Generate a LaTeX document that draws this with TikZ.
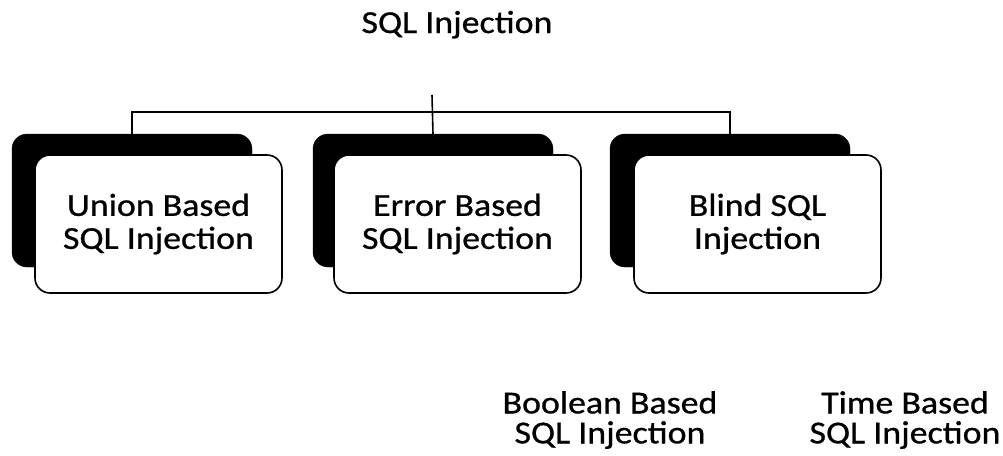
\documentclass[tikz,border=0pt]{standalone}
\usepackage{fontspec}
\setmainfont[FakeStretch=1.12,FakeBold=0.8]{Carlito}
\usepackage{tikz}

\begin{document}
\begin{tikzpicture}[x=1pt,y=-1pt]

\tikzset{
  back card/.style={
    draw=black, fill=black, rounded corners=15pt,
    minimum width=240pt, minimum height=133pt,
    inner sep=0pt, outer sep=0pt,
  },
  front card/.style={
    draw=black, line width=1.6pt, fill=white, rounded corners=15pt,
    minimum width=247pt, minimum height=138pt,
    inner sep=0pt, outer sep=0pt, align=center,
    font=\fontsize{32}{33}\selectfont,
  },
  leaf label/.style={
    inner sep=0pt, align=center,
    font=\fontsize{32}{30}\selectfont,
  },
  link/.style={line width=1.6pt}
}

  \useasboundingbox (0,0) rectangle (1003,455);

  % Top
  \node[inner sep=0pt, anchor=base, font=\fontsize{32}{33}\selectfont] (sqli) at (457,33) {SQL Injection};
  \coordinate (root) at (432,95);
  \coordinate (bar) at (432,112);

  % Shadows
  \node[back card] (unionback) at (132,200.5) {};
  \node[back card] (errorback) at (433,200.5) {};
  \node[back card] (blindback) at (730,200.5) {};

  % Cards
  \node[front card] (union) at (158.5,224) {Union Based\\SQL Injection};
  \node[front card] (error) at (457.5,224) {Error Based\\SQL Injection};
  \node[front card] (blind) at (757.5,224) {Blind SQL\\Injection};

  % Blind types
  \node[leaf label] (boolean) at (610,420) {Boolean Based\\SQL Injection};
  \node[leaf label] (time) at (905,420) {Time Based\\SQL Injection};

  % Edges
  \draw[link] (unionback.north) |- (bar) -| (blindback.north);
  \draw[link] (root) -- (errorback.north);
\end{tikzpicture}
\end{document}
